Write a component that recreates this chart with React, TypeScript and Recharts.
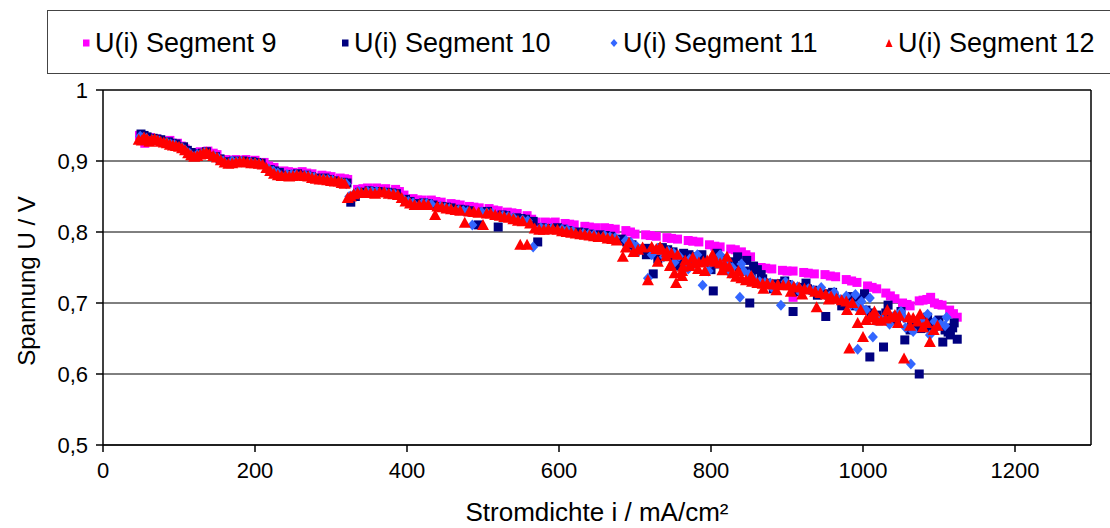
import React from 'react';
import { ScatterChart, Scatter, XAxis, YAxis, CartesianGrid, ReferenceLine, Label } from 'recharts';

// axis ticks
const xTicks = [0, 200, 400, 600, 800, 1000, 1200];
const yTicks = [0.5, 0.6, 0.7, 0.8, 0.9, 1];

// [i (mA/cm²), U (V)]
const seg9: [number, number][] = [
  [48, 0.936], [55, 0.925], [62, 0.933], [70, 0.931], [78, 0.928], [88, 0.929], [98, 0.925], [108, 0.917],
  [118, 0.912], [128, 0.913], [138, 0.914], [150, 0.909], [162, 0.902], [175, 0.902], [188, 0.902], [200, 0.901],
  [212, 0.898], [225, 0.891], [238, 0.886], [250, 0.884], [262, 0.885], [275, 0.882], [288, 0.88], [300, 0.878],
  [312, 0.876], [322, 0.874], [335, 0.86], [348, 0.862], [360, 0.862], [372, 0.861], [385, 0.86], [396, 0.852],
  [408, 0.847], [420, 0.845], [432, 0.845], [445, 0.842], [458, 0.84], [470, 0.838], [482, 0.836], [495, 0.834],
  [508, 0.833], [520, 0.83], [532, 0.828], [545, 0.826], [558, 0.823], [570, 0.814], [582, 0.814], [595, 0.814],
  [608, 0.812], [620, 0.81], [634, 0.808], [648, 0.806], [660, 0.806], [674, 0.804], [688, 0.802], [700, 0.797],
  [714, 0.796], [728, 0.794], [742, 0.792], [756, 0.79], [770, 0.788], [784, 0.786], [798, 0.782], [812, 0.779],
  [826, 0.776], [840, 0.772], [852, 0.765], [866, 0.75], [880, 0.748], [894, 0.746], [908, 0.745], [908, 0.708],
  [922, 0.743], [936, 0.741], [950, 0.74], [964, 0.737], [978, 0.733], [992, 0.729], [1006, 0.724], [1018, 0.72],
  [1030, 0.714], [1042, 0.706], [1052, 0.7], [1062, 0.696], [1074, 0.703], [1084, 0.705], [1094, 0.7], [1104, 0.697],
  [1114, 0.69], [1124, 0.68],
  [52, 0.932], [66, 0.929], [83, 0.926], [103, 0.921], [123, 0.91], [145, 0.911], [168, 0.899], [194, 0.899],
  [218, 0.893], [244, 0.885], [268, 0.883], [294, 0.879], [318, 0.875], [342, 0.861], [366, 0.86], [390, 0.857],
  [414, 0.845], [438, 0.843], [464, 0.839], [488, 0.835], [514, 0.831], [538, 0.827], [564, 0.818], [588, 0.813],
  [614, 0.811], [640, 0.807], [666, 0.805], [694, 0.8], [720, 0.795], [748, 0.791], [776, 0.787], [805, 0.78],
  [832, 0.775], [846, 0.768], [872, 0.749], [900, 0.745], [928, 0.742], [957, 0.738], [985, 0.731], [1012, 0.722],
  [1036, 0.71], [1058, 0.698], [1079, 0.704], [1099, 0.698], [1119, 0.685], [1089, 0.708],
];

const seg10: [number, number][] = [
  [50, 0.938], [58, 0.934], [66, 0.932], [76, 0.93], [86, 0.927], [96, 0.924], [106, 0.92], [116, 0.912],
  [126, 0.91], [136, 0.913], [148, 0.906], [160, 0.899], [172, 0.9], [184, 0.9], [196, 0.899], [208, 0.897],
  [220, 0.888], [232, 0.884], [244, 0.88], [256, 0.882], [268, 0.88], [280, 0.876], [292, 0.876], [304, 0.872],
  [316, 0.87], [326, 0.842], [338, 0.856], [350, 0.858], [362, 0.857], [374, 0.856], [386, 0.854], [398, 0.846],
  [410, 0.84], [422, 0.841], [434, 0.838], [446, 0.836], [458, 0.834], [470, 0.832], [482, 0.83], [494, 0.81],
  [506, 0.829], [520, 0.807], [530, 0.823], [544, 0.82], [556, 0.818], [566, 0.815], [572, 0.786], [584, 0.805],
  [598, 0.806], [612, 0.802], [626, 0.8], [640, 0.797], [654, 0.796], [668, 0.794], [682, 0.79], [696, 0.782],
  [710, 0.776], [724, 0.741], [736, 0.778], [750, 0.772], [764, 0.77], [778, 0.765], [792, 0.758], [803, 0.717],
  [816, 0.762], [830, 0.758], [844, 0.745], [851, 0.7], [856, 0.752], [861, 0.747], [872, 0.728], [886, 0.727],
  [900, 0.726], [908, 0.688], [920, 0.722], [934, 0.718], [948, 0.713], [951, 0.681], [962, 0.708], [976, 0.703],
  [990, 0.696], [1004, 0.69], [1009, 0.624], [1018, 0.683], [1027, 0.638], [1033, 0.697], [1044, 0.676], [1055, 0.648],
  [1064, 0.672], [1074, 0.6], [1080, 0.676], [1092, 0.672], [1105, 0.645], [1112, 0.659], [1118, 0.665], [1124, 0.649],
  [54, 0.936], [71, 0.931], [91, 0.925], [111, 0.915], [131, 0.911], [154, 0.903], [178, 0.899], [202, 0.898],
  [226, 0.886], [250, 0.881], [274, 0.878], [298, 0.874], [321, 0.869], [332, 0.85], [356, 0.857], [380, 0.855],
  [404, 0.843], [428, 0.84], [452, 0.835], [476, 0.831], [500, 0.828], [525, 0.824], [550, 0.819], [578, 0.806],
  [605, 0.804], [633, 0.799], [661, 0.795], [689, 0.786], [716, 0.777], [743, 0.775], [771, 0.768], [785, 0.762],
  [810, 0.755], [837, 0.751], [866, 0.74], [893, 0.727], [927, 0.72], [955, 0.711], [983, 0.7], [1011, 0.686],
  [1039, 0.68], [1068, 0.67], [1086, 0.665], [1098, 0.668], [1115, 0.655], [800, 0.747], [760, 0.758], [1020, 0.675],
  [700, 0.772], [715, 0.768], [730, 0.762], [745, 0.766], [758, 0.752], [774, 0.755], [788, 0.768], [808, 0.77],
  [822, 0.748], [835, 0.765], [847, 0.76], [853, 0.742], [868, 0.734], [882, 0.72], [897, 0.731], [912, 0.716],
  [925, 0.728], [940, 0.711], [960, 0.715], [972, 0.696], [986, 0.709], [996, 0.705], [1002, 0.713], [1030, 0.686],
  [1050, 0.688], [1062, 0.662], [1076, 0.664], [1085, 0.68], [1100, 0.676], [1108, 0.662], [1120, 0.672],
];

const seg11: [number, number][] = [
  [49, 0.935], [57, 0.932], [65, 0.93], [74, 0.928], [84, 0.926], [94, 0.923], [104, 0.919], [114, 0.911],
  [124, 0.909], [134, 0.912], [146, 0.907], [158, 0.9], [170, 0.9], [182, 0.899], [194, 0.898], [206, 0.896],
  [218, 0.889], [230, 0.883], [242, 0.881], [254, 0.881], [266, 0.88], [278, 0.877], [290, 0.875], [302, 0.873],
  [314, 0.87], [324, 0.85], [336, 0.857], [348, 0.857], [360, 0.857], [372, 0.855], [384, 0.853], [396, 0.845],
  [408, 0.841], [420, 0.84], [432, 0.839], [444, 0.836], [456, 0.833], [468, 0.831], [480, 0.829], [486, 0.81],
  [498, 0.828], [512, 0.826], [526, 0.823], [540, 0.82], [552, 0.817], [566, 0.779], [576, 0.806], [590, 0.805],
  [604, 0.804], [618, 0.801], [632, 0.798], [646, 0.796], [660, 0.795], [674, 0.792], [688, 0.788], [702, 0.78],
  [717, 0.735], [730, 0.777], [744, 0.773], [758, 0.766], [772, 0.762], [789, 0.725], [800, 0.757], [814, 0.76],
  [828, 0.75], [838, 0.708], [850, 0.74], [864, 0.73], [878, 0.728], [892, 0.697], [900, 0.726], [914, 0.723],
  [928, 0.72], [942, 0.715], [956, 0.71], [970, 0.705], [984, 0.698], [993, 0.635], [1000, 0.69], [1009, 0.707],
  [1013, 0.652], [1026, 0.676], [1040, 0.681], [1054, 0.679], [1063, 0.614], [1072, 0.677], [1088, 0.655], [1097, 0.666],
  [1108, 0.668],
  [53, 0.933], [70, 0.929], [89, 0.924], [109, 0.914], [129, 0.91], [152, 0.904], [176, 0.899], [200, 0.897],
  [224, 0.886], [248, 0.881], [272, 0.879], [296, 0.874], [320, 0.868], [330, 0.853], [354, 0.857], [378, 0.854],
  [402, 0.843], [426, 0.84], [450, 0.834], [474, 0.83], [505, 0.827], [533, 0.822], [559, 0.816], [583, 0.805],
  [611, 0.803], [639, 0.797], [667, 0.793], [695, 0.785], [723, 0.776], [751, 0.77], [779, 0.76], [807, 0.758],
  [821, 0.755], [843, 0.745], [871, 0.729], [907, 0.725], [935, 0.718], [963, 0.708], [991, 0.695], [1019, 0.68],
  [1047, 0.68], [1080, 0.672], [1102, 0.67], [1056, 0.665], [770, 0.748], [990, 0.712],
  [705, 0.774], [722, 0.768], [738, 0.765], [752, 0.757], [766, 0.75], [782, 0.768], [797, 0.745], [812, 0.768],
  [825, 0.742], [840, 0.755], [855, 0.735], [880, 0.722], [898, 0.73], [918, 0.714], [945, 0.722], [962, 0.715],
  [978, 0.71], [998, 0.702], [1004, 0.69], [1035, 0.67], [1050, 0.688], [1066, 0.66], [1085, 0.684], [1094, 0.674],
  [1110, 0.68],
];

const seg12: [number, number][] = [
  [47, 0.93], [54, 0.933], [61, 0.927], [68, 0.931], [76, 0.927], [84, 0.925], [92, 0.922], [100, 0.92],
  [108, 0.915], [116, 0.908], [124, 0.907], [132, 0.911], [140, 0.91], [150, 0.905], [160, 0.898], [170, 0.897],
  [180, 0.899], [190, 0.898], [200, 0.897], [210, 0.895], [220, 0.886], [230, 0.88], [240, 0.879], [250, 0.879],
  [260, 0.88], [270, 0.878], [280, 0.875], [290, 0.874], [300, 0.872], [310, 0.871], [318, 0.868], [322, 0.848],
  [330, 0.853], [340, 0.855], [352, 0.855], [364, 0.856], [376, 0.854], [388, 0.852], [398, 0.843], [410, 0.838],
  [422, 0.839], [437, 0.824], [446, 0.835], [458, 0.832], [470, 0.83], [476, 0.813], [488, 0.828], [500, 0.81],
  [510, 0.826], [522, 0.823], [534, 0.82], [546, 0.816], [549, 0.782], [558, 0.782], [562, 0.812], [574, 0.803],
  [586, 0.804], [598, 0.803], [610, 0.8], [622, 0.798], [634, 0.796], [646, 0.794], [658, 0.793], [670, 0.79],
  [684, 0.765], [692, 0.785], [704, 0.775], [717, 0.732], [722, 0.779], [736, 0.775], [748, 0.77], [754, 0.728],
  [762, 0.745], [778, 0.756], [790, 0.758], [800, 0.76], [812, 0.756], [824, 0.751], [833, 0.737], [846, 0.732],
  [861, 0.728], [874, 0.727], [888, 0.726], [902, 0.725], [916, 0.722], [930, 0.719], [944, 0.714], [958, 0.709],
  [972, 0.704], [982, 0.636], [986, 0.7], [993, 0.672], [1000, 0.652], [1009, 0.68], [1018, 0.676], [1030, 0.678],
  [1042, 0.683], [1054, 0.622], [1066, 0.679], [1079, 0.666], [1088, 0.645], [1098, 0.668],
  [51, 0.929], [58, 0.931], [64, 0.93], [72, 0.929], [80, 0.926], [88, 0.923], [96, 0.921], [104, 0.918],
  [112, 0.911], [120, 0.906], [128, 0.909], [136, 0.912], [145, 0.907], [155, 0.901], [165, 0.896], [175, 0.898],
  [185, 0.899], [195, 0.897], [205, 0.896], [215, 0.89], [225, 0.882], [235, 0.879], [245, 0.878], [255, 0.88],
  [265, 0.879], [275, 0.876], [285, 0.874], [295, 0.873], [305, 0.871], [314, 0.869], [326, 0.85], [335, 0.855],
  [346, 0.856], [358, 0.854], [370, 0.856], [382, 0.853], [393, 0.848], [404, 0.84], [416, 0.838], [428, 0.838],
  [440, 0.836], [452, 0.833], [464, 0.831], [482, 0.829], [494, 0.827], [505, 0.826], [516, 0.824], [528, 0.821],
  [540, 0.818], [552, 0.815], [568, 0.805], [580, 0.803], [592, 0.804], [604, 0.801], [616, 0.799], [628, 0.797],
  [640, 0.795], [652, 0.793], [664, 0.791], [676, 0.788], [688, 0.778], [698, 0.772], [710, 0.778], [728, 0.776],
  [742, 0.772], [756, 0.768], [766, 0.76], [772, 0.752], [784, 0.757], [795, 0.76], [806, 0.758], [818, 0.754],
  [828, 0.742], [840, 0.735], [854, 0.73], [868, 0.727], [881, 0.726], [895, 0.725], [909, 0.723], [923, 0.72],
  [937, 0.716], [951, 0.712], [965, 0.706], [978, 0.702], [997, 0.69], [1004, 0.676], [1013, 0.68], [1024, 0.675],
  [1036, 0.68], [1048, 0.682], [1060, 0.68], [1072, 0.674], [1084, 0.672], [1093, 0.662], [730, 0.758], [746, 0.752],
  [762, 0.738],
  [733, 0.779], [741, 0.766], [747, 0.753], [752, 0.742], [763, 0.751], [776, 0.764], [783, 0.748], [792, 0.745],
  [802, 0.768], [815, 0.746], [821, 0.765], [836, 0.745], [853, 0.738], [869, 0.72], [886, 0.718], [905, 0.716],
  [920, 0.712], [939, 0.694], [955, 0.705], [979, 0.69], [1015, 0.688], [1032, 0.69], [1046, 0.672], [1062, 0.668],
  [1075, 0.684],
];

const FONT = '"Liberation Sans", Arial, sans-serif';

const toPoints = (pts: [number, number][]) => pts.map(([i, u]) => ({ i, u }));

const squareShape = (color: string) => (props: any) => (
  <rect x={props.cx - 4.5} y={props.cy - 4.5} width={9} height={9} fill={color} />
);
const diamondShape = (color: string) => (props: any) => {
  const { cx, cy } = props;
  return <polygon points={`${cx},${cy - 5.5} ${cx + 5},${cy} ${cx},${cy + 5.5} ${cx - 5},${cy}`} fill={color} />;
};
const triangleShape = (color: string) => (props: any) => {
  const { cx, cy } = props;
  return <polygon points={`${cx},${cy - 6} ${cx + 6},${cy + 5} ${cx - 6},${cy + 5}`} fill={color} />;
};

const series = [
  { name: 'U(i) Segment 9', data: seg9, color: '#FF00FF', kind: 'square', legendX: 86 },
  { name: 'U(i) Segment 10', data: seg10, color: '#000080', kind: 'square', legendX: 345 },
  { name: 'U(i) Segment 11', data: seg11, color: '#3366FF', kind: 'diamond', legendX: 614 },
  { name: 'U(i) Segment 12', data: seg12, color: '#FF0000', kind: 'triangle', legendX: 889 },
];

const shapeFor = (kind: string, color: string) => {
  if (kind === 'diamond') return diamondShape(color);
  if (kind === 'triangle') return triangleShape(color);
  return squareShape(color);
};

const LegendMarker = ({ kind, color }: { kind: string; color: string }) => {
  if (kind === 'diamond') {
    return (
      <svg width={10} height={10} style={{ display: 'block' }}>
        <polygon points="5,1 8.5,5 5,9 1.5,5" fill={color} />
      </svg>
    );
  }
  if (kind === 'triangle') {
    return (
      <svg width={10} height={10} style={{ display: 'block' }}>
        <polygon points="5,1 8.5,9 1.5,9" fill={color} />
      </svg>
    );
  }
  return (
    <svg width={10} height={10} style={{ display: 'block' }}>
      <rect x={2} y={1.5} width={6.5} height={7} fill={color} />
    </svg>
  );
};

const fmtU = (v: number) => (v === 1 ? '1' : v.toFixed(1).replace('.', ','));

const App = () => {
  return (
    <div style={{ position: 'absolute', left: 0, top: 0, width: 1110, height: 528, overflow: 'hidden', background: '#fff', fontFamily: FONT }}>
      {/* legend box */}
      <div style={{ position: 'absolute', left: 47, top: 10, width: 1100, height: 64, border: '1px solid #444', boxSizing: 'border-box' }}>
        {series.map((s) => (
          <div key={s.name} style={{ position: 'absolute', left: s.legendX - 47 - 6, top: 14, display: 'flex', alignItems: 'center', height: 36 }}>
            <LegendMarker kind={s.kind} color={s.color} />
            <span style={{ marginLeft: 4, fontSize: 27, color: '#000', whiteSpace: 'nowrap' }}>{s.name}</span>
          </div>
        ))}
      </div>

      <ScatterChart width={1110} height={528} margin={{ top: 90, right: 19, bottom: 23, left: 13 }}>
        <CartesianGrid horizontal vertical={false} stroke="#000" strokeWidth={1} />
        <XAxis
          type="number"
          dataKey="i"
          domain={[0, 1300]}
          ticks={xTicks}
          height={60}
          tickSize={7}
          tickMargin={10}
          stroke="#000"
          strokeWidth={1.5}
          tick={{ fill: '#000', fontSize: 22, fontFamily: FONT }}
        >
          <Label
            content={() => (
              <text x={597} y={521} textAnchor="middle" fontSize={26} fontFamily={FONT} fill="#000">
                Stromdichte i / mA/cm²
              </text>
            )}
          />
        </XAxis>
        <YAxis
          type="number"
          dataKey="u"
          domain={[0.5, 1]}
          ticks={yTicks}
          width={90}
          tickSize={7}
          tickMargin={8}
          tickFormatter={fmtU}
          stroke="#000"
          strokeWidth={1.5}
          tick={{ fill: '#000', fontSize: 22, fontFamily: FONT }}
        >
          <Label
            content={() => (
              <text x={27} y={281} dy="0.35em" transform="rotate(-90 27 281)" textAnchor="middle" fontSize={24} fontFamily={FONT} fill="#000">
                Spannung U / V
              </text>
            )}
          />
        </YAxis>
        <ReferenceLine x={1300} stroke="#000" strokeWidth={1.5} />
        <ReferenceLine y={1} stroke="#000" strokeWidth={1} />
        {series.map((s) => (
          <Scatter
            key={s.name}
            name={s.name}
            data={toPoints(s.data)}
            fill={s.color}
            shape={shapeFor(s.kind, s.color)}
            isAnimationActive={false}
          />
        ))}
      </ScatterChart>
    </div>
  );
};

export default App;
